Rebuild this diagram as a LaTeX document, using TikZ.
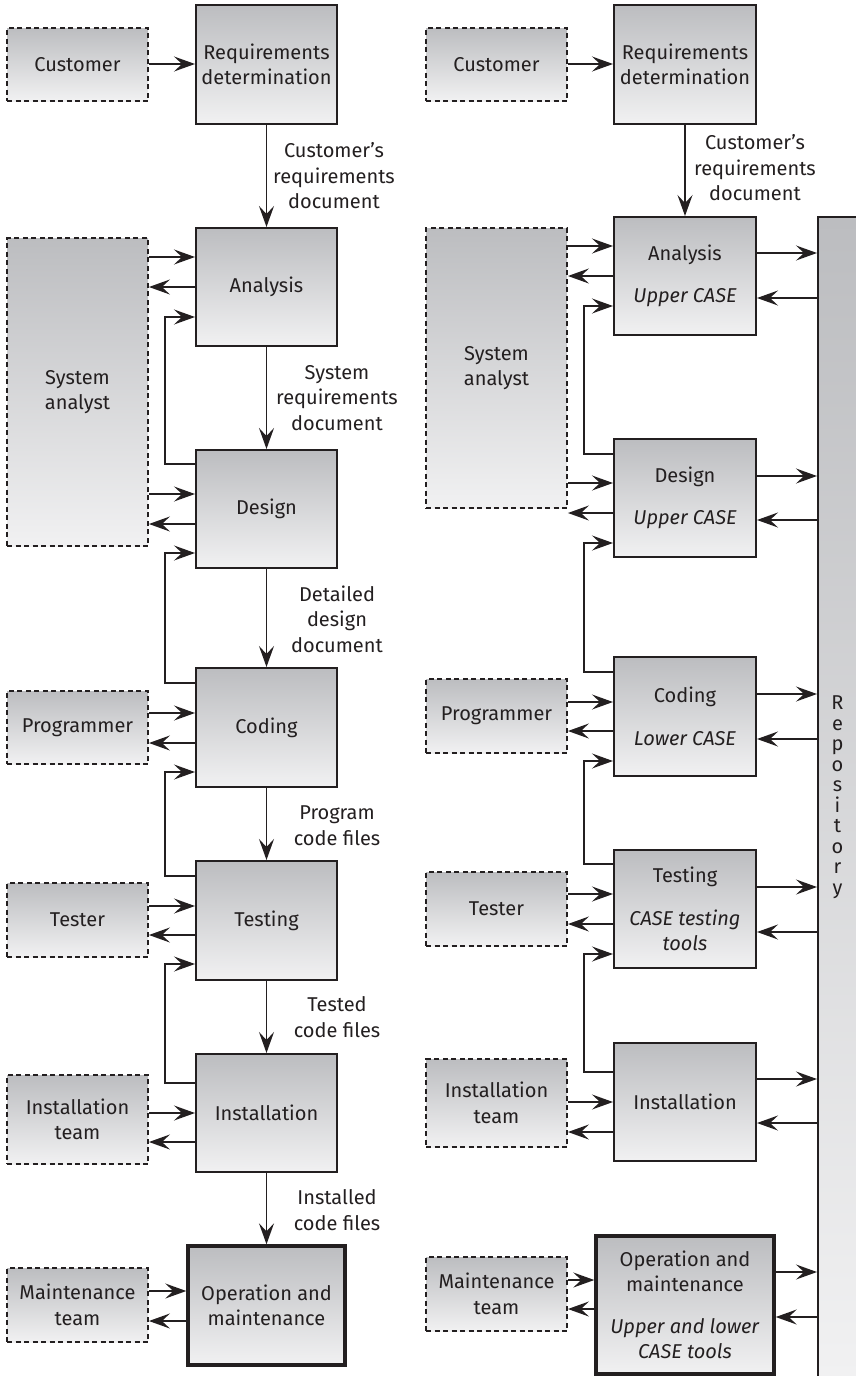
\documentclass[tikz,border=0pt]{standalone}
\usepackage{fontspec}
\setmainfont{Fira Sans}
\usepackage{tikz}
\usetikzlibrary{arrows.meta}
\definecolor{boxtop}{RGB}{188,189,192}
\definecolor{boxbot}{RGB}{241,241,242}
\definecolor{ink}{RGB}{35,31,32}
\tikzset{
  phase/.style={draw=ink, line width=2pt, top color=boxtop, bottom color=boxbot,
    minimum width=141pt, align=center, inner sep=0pt},
  actor/.style={phase, line width=1.8pt, dash pattern=on 5pt off 3.5pt},
  final/.style={phase, line width=3.4pt},
  flow/.style={-{Stealth[length=21pt, width=15pt, inset=8pt]}, draw=ink, line width=1.7pt},
  lbl/.style={align=center},
}

\begin{document}
\begin{tikzpicture}[x=1pt, y=-1pt,
    every node/.style={text=ink, font=\fontsize{20}{25.5}\selectfont}]
  \useasboundingbox (0,0) rectangle (856,1376);

  % left: without CASE tools
  \node[actor, minimum height=73pt]  at (77.5, 64.5)  (custL)   {Customer};
  \node[actor, minimum height=308pt] at (77.5, 392)   (saL)     {System\\analyst};
  \node[actor, minimum height=73pt]  at (77.5, 727.5) (progL)   {Programmer};
  \node[actor, minimum height=74pt]  at (77.5, 920)   (testerL) {Tester};
  \node[actor, minimum height=89pt]  at (77.5, 1119.5)(instL)   {Installation\\team};
  \node[actor, minimum height=74pt]  at (77.5, 1305)  (maintL)  {Maintenance\\team};

  \node[phase, minimum height=119pt] at (266.5, 64.5)  (reqL) {Requirements\\determination};
  \node[phase, minimum height=118pt] at (266.5, 287)   (anaL) {Analysis};
  \node[phase, minimum height=118pt] at (266.5, 509)   (desL) {Design};
  \node[phase, minimum height=119pt] at (266.5, 727.5) (codL) {Coding};
  \node[phase, minimum height=119pt] at (266.5, 920.5) (tesL) {Testing};
  \node[phase, minimum height=118pt] at (266.5, 1113)  (insL) {Installation};
  \node[final, minimum width=157pt, minimum height=119pt] at (266.5, 1305.5) (opL) {Operation and\\maintenance};

  \node[lbl] at (334, 176)    (docL1) {Customer’s\\requirements\\document};
  \node[lbl] at (337, 398)    (docL2) {System\\requirements\\document};
  \node[lbl] at (337, 619)    (docL3) {Detailed\\design\\document};
  \node[lbl] at (337, 825.5)  (docL4) {Program\\code files};
  \node[lbl] at (337, 1017)   (docL5) {Tested\\code files};
  \node[lbl] at (337, 1210)   (docL6) {Installed\\code files};

  \draw[flow] (reqL) -- (anaL);
  \draw[flow] (anaL) -- (desL);
  \draw[flow] (desL) -- (codL);
  \draw[flow] (codL) -- (tesL);
  \draw[flow] (tesL) -- (insL);
  \draw[flow] (insL) -- (opL);

  \draw[flow] (custL.east |- 0,64) -- (reqL.west |- 0,64);
  \draw[flow] (saL.east |- 0,257) -- (anaL.west |- 0,257);
  \draw[flow] (anaL.west |- 0,287) -- (saL.east |- 0,287);
  \draw[flow] (saL.east |- 0,494) -- (desL.west |- 0,494);
  \draw[flow] (desL.west |- 0,524) -- (saL.east |- 0,524);
  \draw[flow] (progL.east |- 0,713) -- (codL.west |- 0,713);
  \draw[flow] (codL.west |- 0,743) -- (progL.east |- 0,743);
  \draw[flow] (testerL.east |- 0,906) -- (tesL.west |- 0,906);
  \draw[flow] (tesL.west |- 0,935) -- (testerL.east |- 0,935);
  \draw[flow] (instL.east |- 0,1113) -- (insL.west |- 0,1113);
  \draw[flow] (insL.west |- 0,1142) -- (instL.east |- 0,1142);
  \draw[flow] (maintL.east |- 0,1291) -- (opL.west |- 0,1291);
  \draw[flow] (opL.west |- 0,1321) -- (maintL.east |- 0,1321);

  % feedback to the previous phase
  \draw[flow] (desL.west |- 0,464) -- ++(-30,0) |- (anaL.west |- 0,317);
  \draw[flow] (codL.west |- 0,683) -- ++(-30,0) |- (desL.west |- 0,553);
  \draw[flow] (tesL.west |- 0,876) -- ++(-30,0) |- (codL.west |- 0,772);
  \draw[flow] (insL.west |- 0,1083) -- ++(-30,0) |- (tesL.west |- 0,964);

  % right: with CASE tools
  \node[actor, minimum height=73pt]  at (496.5, 64.5) (custR)   {Customer};
  \node[actor, minimum height=280pt] at (496.5, 368)  (saR)     {System\\analyst};
  \node[actor, minimum height=74pt]  at (496.5, 716)  (progR)   {Programmer};
  \node[actor, minimum height=74pt]  at (496.5, 909)  (testerR) {Tester};
  \node[actor, minimum height=88pt]  at (496.5, 1103) (instR)   {Installation\\team};
  \node[actor, minimum height=74pt]  at (496.5, 1294) (maintR)  {Maintenance\\team};

  \node[phase, minimum width=142pt, minimum height=119pt] at (685, 64.5) (reqR) {Requirements\\determination};
  \node[phase, minimum width=142pt, minimum height=118pt] at (685, 276)  (anaR) {Analysis\\[17pt]\textit{Upper CASE}};
  \node[phase, minimum width=142pt, minimum height=118pt] at (685, 498)  (desR) {Design\\[17pt]\textit{Upper CASE}};
  \node[phase, minimum width=142pt, minimum height=119pt] at (685, 716.5)(codR) {Coding\\[17pt]\textit{Lower CASE}};
  \node[phase, minimum width=142pt, minimum height=118pt] at (685, 909)  (tesR) {Testing\\[17pt]\textit{CASE testing}\\\textit{tools}};
  \node[phase, minimum width=142pt, minimum height=118pt] at (685, 1102) (insR) {Installation};
  \node[final, minimum width=178pt, minimum height=138pt] at (685, 1305) (opR)
    {Operation and\\maintenance\\[16pt]\textit{Upper and lower}\\\textit{CASE tools}};

  \node[phase, minimum width=39pt, minimum height=1160pt,
        font=\fontsize{20}{20.5}\selectfont] at (837.5, 797) (repo)
    {R\\e\\p\\o\\s\\i\\t\\o\\r\\y};

  \node[lbl] at (755, 168) (docR1) {Customer’s\\requirements\\document};

  \draw[flow] (reqR) -- (anaR);
  \draw[flow] (custR.east |- 0,64) -- (reqR.west |- 0,64);
  \draw[flow] (saR.east |- 0,246) -- (anaR.west |- 0,246);
  \draw[flow] (anaR.west |- 0,276) -- (saR.east |- 0,276);
  \draw[flow] (saR.east |- 0,483) -- (desR.west |- 0,483);
  \draw[flow] (desR.west |- 0,513) -- (saR.east |- 0,513);
  \draw[flow] (progR.east |- 0,702) -- (codR.west |- 0,702);
  \draw[flow] (codR.west |- 0,731) -- (progR.east |- 0,731);
  \draw[flow] (testerR.east |- 0,894) -- (tesR.west |- 0,894);
  \draw[flow] (tesR.west |- 0,924) -- (testerR.east |- 0,924);
  \draw[flow] (instR.east |- 0,1102) -- (insR.west |- 0,1102);
  \draw[flow] (insR.west |- 0,1132) -- (instR.east |- 0,1132);
  \draw[flow] (maintR.east |- 0,1280) -- (opR.west |- 0,1280);
  \draw[flow] (opR.west |- 0,1309) -- (maintR.east |- 0,1309);

  \draw[flow] (desR.west |- 0,454) -- ++(-29,0) |- (anaR.west |- 0,306);
  \draw[flow] (codR.west |- 0,672) -- ++(-29,0) |- (desR.west |- 0,543);
  \draw[flow] (tesR.west |- 0,864) -- ++(-29,0) |- (codR.west |- 0,761);
  \draw[flow] (insR.west |- 0,1072) -- ++(-29,0) |- (tesR.west |- 0,954);

  % to and from the repository
  \draw[flow] (anaR.east |- 0,253) -- (repo.west |- 0,253);
  \draw[flow] (repo.west |- 0,298) -- (anaR.east |- 0,298);
  \draw[flow] (desR.east |- 0,476) -- (repo.west |- 0,476);
  \draw[flow] (repo.west |- 0,520) -- (desR.east |- 0,520);
  \draw[flow] (codR.east |- 0,694) -- (repo.west |- 0,694);
  \draw[flow] (repo.west |- 0,739) -- (codR.east |- 0,739);
  \draw[flow] (tesR.east |- 0,887) -- (repo.west |- 0,887);
  \draw[flow] (repo.west |- 0,932) -- (tesR.east |- 0,932);
  \draw[flow] (insR.east |- 0,1079) -- (repo.west |- 0,1079);
  \draw[flow] (repo.west |- 0,1123) -- (insR.east |- 0,1123);
  \draw[flow] (opR.east |- 0,1272) -- (repo.west |- 0,1272);
  \draw[flow] (repo.west |- 0,1317) -- (opR.east |- 0,1317);
\end{tikzpicture}
\end{document}
